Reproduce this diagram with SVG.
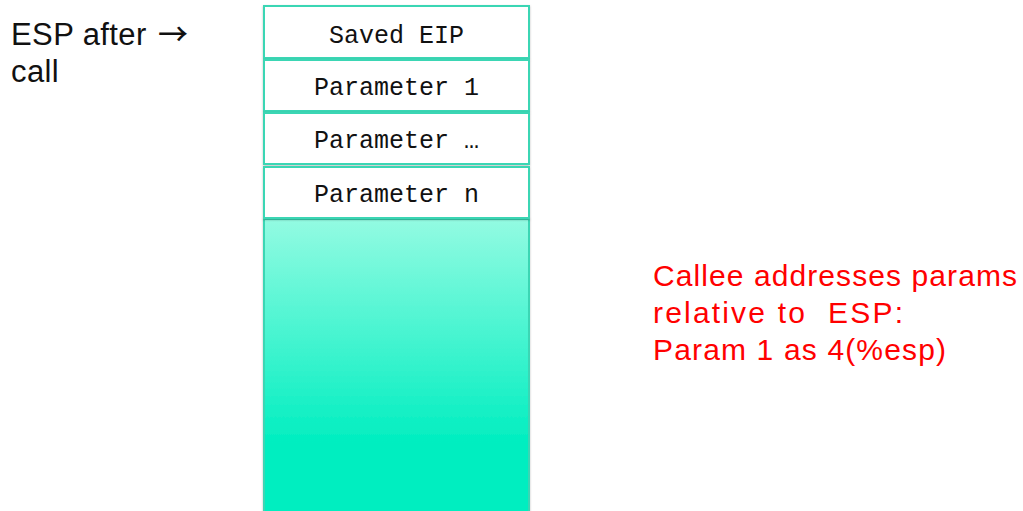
<svg xmlns="http://www.w3.org/2000/svg" width="1023" height="511" viewBox="0 0 1023 511">
  <defs>
    <linearGradient id="stackFill" x1="0" y1="0" x2="0" y2="1">
      <stop offset="0" stop-color="#93fbe2"/>
      <stop offset="0.75" stop-color="#00eec0"/>
      <stop offset="1" stop-color="#00eec0"/>
    </linearGradient>
    <filter id="soft" x="-5%" y="-5%" width="110%" height="115%">
      <feDropShadow dx="0" dy="1" stdDeviation="1" flood-color="#000" flood-opacity="0.25"/>
    </filter>
  </defs>
  <style>
    .slot { fill: #ffffff; stroke: #3ad6b4; stroke-width: 2; filter: url(#soft); }
    .mono { font-family: "Liberation Mono", "Courier New", monospace; font-size: 25px; fill: #111; text-anchor: middle; }
    .label { font-family: "Liberation Sans", Arial, sans-serif; font-size: 31px; fill: #111; letter-spacing: 0.4px; }
    .arrow { font-family: "Noto Sans CJK SC", sans-serif; font-size: 30px; font-weight: 500; }
    .note { font-family: "Liberation Sans", Arial, sans-serif; font-size: 30px; fill: #ff0000; }
  </style>
  <rect width="1023" height="511" fill="#ffffff"/>

  <g id="esp-label">
    <text class="label" x="11" y="45">ESP after <tspan class="arrow" x="158">→</tspan></text>
    <text class="label" x="11" y="82">call</text>
  </g>

  <g id="stack-free">
    <rect x="264" y="219" width="265" height="300" fill="url(#stackFill)" stroke="#3ad6b4" stroke-width="2" filter="url(#soft)"/>
  </g>
  <g id="saved-eip">
    <rect class="slot" x="264" y="6" width="265" height="52"/>
    <text class="mono" x="396.5" y="43">Saved EIP</text>
  </g>
  <g id="param-1">
    <rect class="slot" x="264" y="60" width="265" height="51"/>
    <text class="mono" x="396.5" y="95">Parameter 1</text>
  </g>
  <g id="param-mid">
    <rect class="slot" x="264" y="113" width="265" height="51"/>
    <text class="mono" x="396.5" y="148">Parameter …</text>
  </g>
  <g id="param-n">
    <rect class="slot" x="264" y="167" width="265" height="51"/>
    <text class="mono" x="396.5" y="202">Parameter n</text>
  </g>

  <g id="callee-note">
    <text class="note" x="653" y="286" textLength="364">Callee addresses params</text>
    <text class="note" x="653" y="323" textLength="250" xml:space="preserve">relative to  ESP:</text>
    <text class="note" x="653" y="360" textLength="293" xml:space="preserve">Param 1 as 4(%esp)</text>
  </g>

  <g id="connectors"/>
</svg>
